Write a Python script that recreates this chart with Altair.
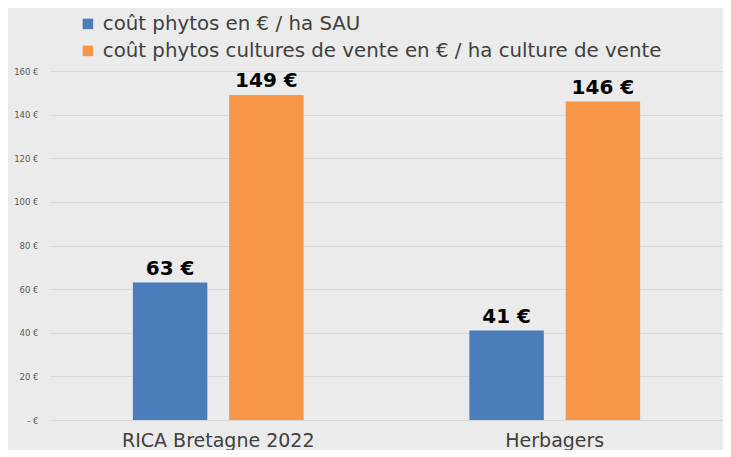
import altair as alt
import pandas as pd

groups = ["RICA Bretagne 2022", "Herbagers"]
series = ["coût phytos en € / ha SAU",
          "coût phytos cultures de vente en € / ha culture de vente"]
sau_values = [63, 41]
cv_values = [149, 146]
colors = ["#4A7EBB", "#F79646"]

rows = []
for g, a, b in zip(groups, sau_values, cv_values):
    rows.append({"group": g, "series": series[0], "value": a, "label": f"{a} €"})
    rows.append({"group": g, "series": series[1], "value": b, "label": f"{b} €"})
df = pd.DataFrame(rows)

FONT = "DejaVu Sans"

base = alt.Chart(df).encode(
    x=alt.X("group:N", sort=groups, title=None,
            scale=alt.Scale(paddingInner=0.4926, paddingOuter=0.2463),
            axis=alt.Axis(labelAngle=0, labelFontSize=19, labelColor="#404040",
                          labelFont=FONT, labelPadding=11, labelLimit=400,
                          domain=False, ticks=False)),
    xOffset=alt.XOffset("series:N", sort=series,
                        scale=alt.Scale(paddingInner=0.227, paddingOuter=0)),
    y=alt.Y("value:Q", title=None,
            scale=alt.Scale(domain=[0, 160], nice=False),
            axis=alt.Axis(values=[0, 20, 40, 60, 80, 100, 120, 140, 160],
                          labelExpr="datum.value == 0 ? '-   €' : datum.value + ' €'",
                          labelFontSize=8.5, labelColor="#595959", labelFont=FONT,
                          labelPadding=12, domain=False, ticks=False,
                          gridColor="#d9d9d9", gridWidth=1)),
)

bars = base.mark_bar().encode(
    color=alt.Color("series:N", sort=series,
                    scale=alt.Scale(domain=series, range=colors),
                    legend=alt.Legend(title=None, orient="none", legendX=28, legendY=-57,
                                      direction="vertical", symbolType="square",
                                      symbolSize=110, symbolStrokeWidth=0,
                                      labelFontSize=19.8, labelFont=FONT,
                                      labelColor="#404040", labelOffset=5,
                                      rowPadding=6, labelLimit=700)),
)

text = base.mark_text(baseline="alphabetic", dy=-8, fontSize=20, fontWeight="bold",
                      font=FONT, color="#000000").encode(text="label:N")

chart = (bars + text).properties(
    width=673, height=349,
    autosize=alt.AutoSizeParams(type="none"),
    padding={"left": 42, "top": 63, "right": 0, "bottom": 30},
    background="#ebebeb",
).configure_view(stroke=None)

chart.save("out.html", embed_options={"renderer": "svg", "actions": False})
